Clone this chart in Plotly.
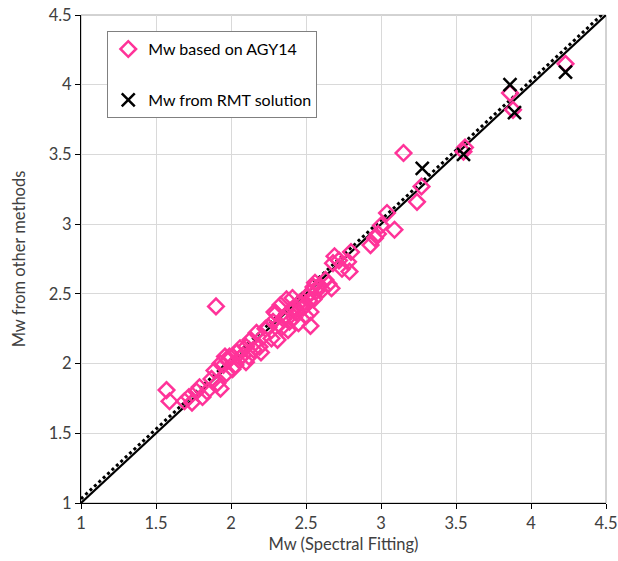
import plotly.graph_objects as go

# AGY14 Mw values (x: spectral fitting, y: AGY14)
agy_x = [1.57, 1.59, 1.69, 1.72, 1.74, 1.77, 1.79, 1.81, 1.84, 1.87, 1.89, 1.90, 1.91, 1.93, 1.93,
         1.95, 1.96, 1.97, 1.98, 1.99, 2.01, 2.03, 2.04, 2.06, 2.06, 2.08, 2.10, 2.10, 2.12, 2.13,
         2.15, 2.17, 2.19, 2.20, 2.21, 2.23, 2.25, 2.27, 2.28, 2.29, 2.30, 2.31, 2.32, 2.33, 2.34,
         2.35, 2.36, 2.37, 2.38, 2.39, 2.40, 2.41, 2.42, 2.43, 2.44, 2.45, 2.46, 2.48, 2.50, 2.50,
         2.51, 2.52, 2.53, 2.53, 2.53, 2.55, 2.55, 2.56, 2.57, 2.59, 2.61, 2.63, 2.65, 2.67, 2.68,
         2.69, 2.72, 2.74, 2.78, 2.79, 2.80, 2.93, 2.96, 2.98, 3.00, 3.04, 3.09, 3.15, 3.24, 3.27,
         3.55, 3.56, 3.86, 3.88, 4.23]
agy_y = [1.81, 1.73, 1.73, 1.76, 1.72, 1.80, 1.83, 1.76, 1.80, 1.89, 1.95, 2.41, 1.86, 1.82, 2.00,
         1.99, 2.05, 1.93, 2.02, 2.05, 1.96, 1.99, 2.08, 2.11, 2.04, 2.06, 2.01, 2.12, 2.05, 2.17,
         2.10, 2.22, 2.12, 2.08, 2.19, 2.25, 2.26, 2.18, 2.30, 2.37, 2.36, 2.17, 2.28, 2.42, 2.26,
         2.32, 2.34, 2.46, 2.24, 2.30, 2.38, 2.47, 2.33, 2.40, 2.37, 2.29, 2.44, 2.40, 2.42, 2.34,
         2.48, 2.45, 2.51, 2.27, 2.37, 2.55, 2.46, 2.58, 2.52, 2.56, 2.53, 2.60, 2.57, 2.54, 2.72,
         2.77, 2.74, 2.68, 2.73, 2.66, 2.80, 2.85, 2.90, 2.93, 2.99, 3.08, 2.96, 3.51, 3.16, 3.27,
         3.52, 3.55, 3.94, 3.82, 4.15]

# RMT solution Mw values
rmt_x = [3.275, 3.55, 3.86, 3.89, 4.23]
rmt_y = [3.40, 3.50, 4.00, 3.80, 4.09]

# reference lines
one_x = [1.0, 4.5]
one_y = [1.0, 4.5]
fit_x = [1.0, 4.5]
fit_y = [1.03, 4.53]

tick_vals = [1, 1.5, 2, 2.5, 3, 3.5, 4, 4.5]
tick_text = ["1", "1.5", "2", "2.5", "3", "3.5", "4", "4.5"]

FONT = "Lato, 'Open Sans', sans-serif"
PINK = "#FF3399"

fig = go.Figure()
fig.add_trace(go.Scatter(x=fit_x, y=fit_y, mode="lines", showlegend=False,
                         line=dict(color="black", width=3, dash="dot"), hoverinfo="skip"))
fig.add_trace(go.Scatter(x=one_x, y=one_y, mode="lines", showlegend=False,
                         line=dict(color="black", width=2.2), hoverinfo="skip"))
fig.add_trace(go.Scatter(x=agy_x, y=agy_y, mode="markers", name="Mw based on AGY14",
                         legendgroup="a",
                         marker=dict(symbol="diamond-open", size=12, color=PINK,
                                     line=dict(color=PINK, width=2.5))))
fig.add_trace(go.Scatter(x=rmt_x, y=rmt_y, mode="markers", name="Mw from RMT solution",
                         legendgroup="b",
                         marker=dict(symbol="x-thin-open", size=13, color="black",
                                     line=dict(color="black", width=2.5))))

axis_common = dict(
    range=[1, 4.5], tickvals=tick_vals, ticktext=tick_text,
    showgrid=True, gridcolor="#D9D9D9", gridwidth=1,
    showline=True, linecolor="black", linewidth=1,
    ticks="outside", ticklen=5, tickcolor="black",
    zeroline=False, automargin=False,
    tickfont=dict(family=FONT, size=16.5, color="#404040"),
)

fig.update_layout(
    width=618, height=561,
    margin=dict(l=81, r=12, t=15, b=58),
    paper_bgcolor="white", plot_bgcolor="white",
    font=dict(family=FONT, size=16.5, color="black"),
    xaxis=dict(**axis_common, title=dict(text="Mw (Spectral Fitting)", standoff=6,
                                         font=dict(family=FONT, size=16.5, color="#404040"))),
    yaxis=dict(**axis_common, title=dict(text="Mw from other methods", standoff=18,
                                         font=dict(family=FONT, size=16.5, color="#404040"))),
    legend=dict(x=0.05, y=0.967, xanchor="left", yanchor="top",
                bgcolor="white", bordercolor="#808080", borderwidth=1,
                font=dict(family=FONT, size=16, color="black"),
                traceorder="grouped", tracegroupgap=27, itemwidth=30),
    shapes=[dict(type="rect", xref="x domain", yref="y domain", x0=0, x1=1, y0=0, y1=1,
                 line=dict(color="#A6A6A6", width=1), layer="below")],
)

fig.write_html("out.html")
